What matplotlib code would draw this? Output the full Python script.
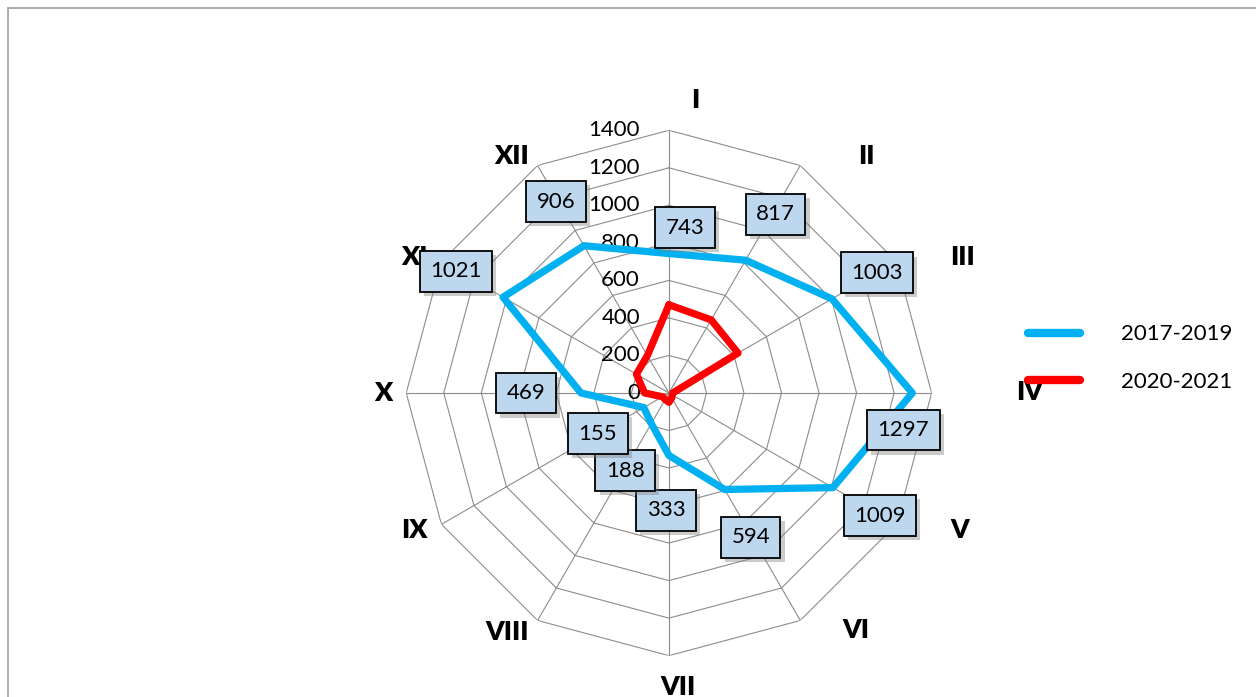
import numpy as np
import matplotlib.pyplot as plt
from matplotlib.lines import Line2D
from matplotlib.patches import Rectangle
import matplotlib.patheffects as pe

plt.rcParams["font.family"] = ["Lato", "DejaVu Sans"]

months = ["I", "II", "III", "IV", "V", "VI", "VII", "VIII", "IX", "X", "XI", "XII"]
cases_2017_2019 = [743, 817, 1003, 1297, 1009, 594, 333, 188, 155, 469, 1021, 906]
cases_2020_2021 = [470, 450, 425, 20, 20, 30, 50, 40, 40, 130, 200, 230]
series_names = ["2017-2019", "2020-2021"]
ring_values = [0, 200, 400, 600, 800, 1000, 1200, 1400]

BLUE = "#00B0F0"
RED = "#FF0000"
GRID = "#8c8c8c"

# pixel offsets of the value boxes from their points (x right, y up)
value_label_offsets = [(16, 26), (30, 46), (45, 26), (-9, -37), (47, -28), (26, -48),
                       (-3, -55), (-26, -47), (-46, -26), (-55, 0), (-47, 26), (-28, 44)]
# pixel offsets of the month names from the outer ring vertices
month_label_offsets = [(26, 30), (66, 9), (66, 5), (98, 1), (63, -6), (56, -10),
                       (9, -31), (-31, -12), (-27, -6), (-23, 0), (-27, 5), (-26, 9)]

fig = plt.figure(figsize=(12.56, 6.97), dpi=100)
ax = fig.add_axes([0.3234, 0.0593, 0.4184, 0.7538], projection="polar")
ax.set_theta_zero_location("N")
ax.set_theta_direction(-1)
ax.set_ylim(0, 1400)
ax.grid(False)
ax.spines["polar"].set_visible(False)
ax.set_xticks([])
ax.set_yticks([])
ax.patch.set_alpha(0)

n = len(months)
theta = np.arange(n) * 2 * np.pi / n
theta_closed = np.append(theta, theta[0])

# polygon rings and spokes
for rv in ring_values[1:]:
    ax.plot(theta_closed, [rv] * (n + 1), color=GRID, lw=0.8, zorder=1)
for t in theta:
    ax.plot([t, t], [0, ring_values[-1]], color=GRID, lw=0.8, zorder=1)

for rv in ring_values:
    ax.annotate(str(rv), xy=(0, rv), xytext=(-29, 0), textcoords="offset pixels",
                ha="right", va="center", fontsize=16, color="#000000", zorder=2)

for vals, color in [(cases_2017_2019, BLUE), (cases_2020_2021, RED)]:
    ax.plot(theta_closed, vals + vals[:1], color=color, lw=5.2, solid_joinstyle="round",
            solid_capstyle="round", zorder=3)

for t, v, (dx, dy) in zip(theta, cases_2017_2019, value_label_offsets):
    txt = ax.annotate(str(v), xy=(t, v), xytext=(dx, dy), textcoords="offset pixels",
                      ha="center", va="center", fontsize=16, zorder=5,
                      bbox=dict(boxstyle="square,pad=0.47", fc="#BDD7EE", ec="black", lw=1.3))
    txt.get_bbox_patch().set_path_effects([
        pe.SimplePatchShadow(offset=(3, -3), shadow_rgbFace="#7f7f7f", alpha=0.4),
        pe.Normal()])

for t, name, (dx, dy) in zip(theta, months, month_label_offsets):
    ax.annotate(name, xy=(t, 1400), xytext=(dx, dy), textcoords="offset pixels",
                ha="center", va="center", fontsize=19, fontweight="heavy", zorder=4)

handles = [Line2D([], [], color=BLUE, lw=6, solid_capstyle="round"),
           Line2D([], [], color=RED, lw=6, solid_capstyle="round")]
fig.legend(handles, series_names, loc="center left", bbox_to_anchor=(0.8185, 0.486),
           frameon=False, fontsize=16, handlelength=2.35, handletextpad=1.85,
           labelspacing=1.25, borderpad=0, borderaxespad=0)

fig.add_artist(Rectangle((7.5 / 1256, -0.1), 1.2, 1.1 - 7.5 / 697, transform=fig.transFigure,
                         fill=False, ec="#a6a6a6", lw=1.3))

fig.savefig("out.png", dpi=100)
